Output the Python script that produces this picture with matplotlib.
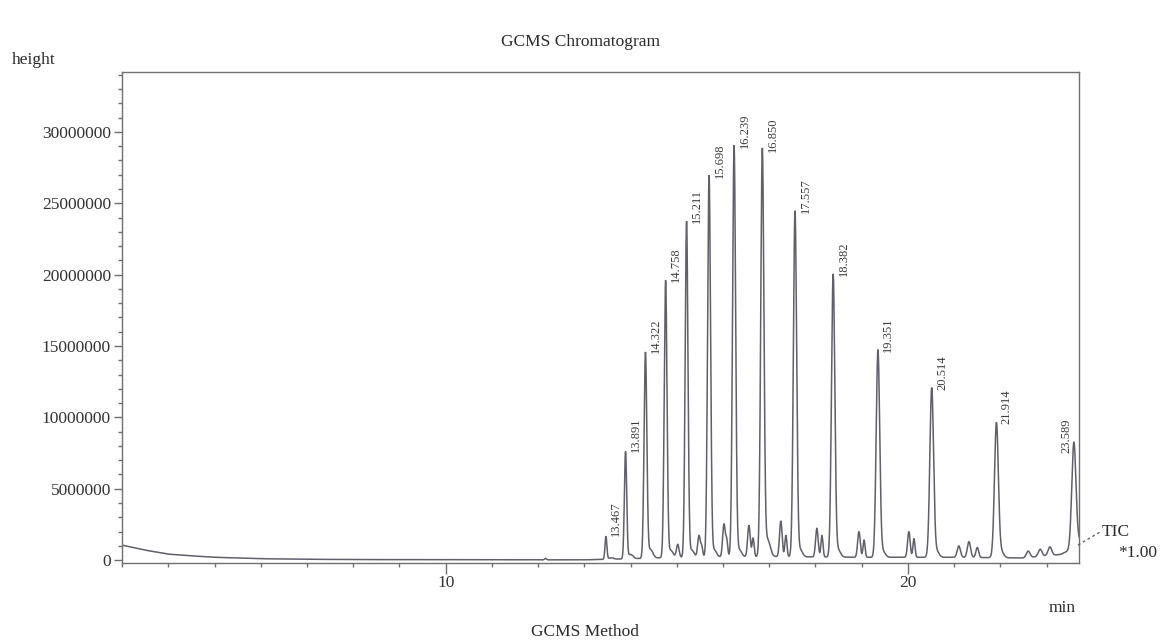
import numpy as np
import matplotlib
matplotlib.use("Agg")
import matplotlib.pyplot as plt
from matplotlib.lines import Line2D
from matplotlib.ticker import MultipleLocator, FixedLocator

plt.rcParams["font.family"] = ["Liberation Serif", "DejaVu Serif"]

# Labelled peaks: retention time (min), apex height, width (sigma, min)
peak_times = [13.467, 13.891, 14.322, 14.758, 15.211, 15.698, 16.239,
              16.850, 17.557, 18.382, 19.351, 20.514, 21.914, 23.589]
peak_heights = [1.6e6, 7.5e6, 14.4e6, 19.4e6, 23.5e6, 26.7e6, 28.8e6,
                28.5e6, 24.2e6, 19.8e6, 14.5e6, 11.85e6, 9.45e6, 7.4e6]
peak_widths = [0.02, 0.025, 0.03, 0.03, 0.03, 0.032, 0.033,
               0.034, 0.035, 0.036, 0.038, 0.04, 0.042, 0.045]

# Minor unlabelled peaks
minor_times = [12.16, 15.02, 15.48, 15.54, 16.02, 16.08, 16.56, 16.65,
               16.97, 17.25, 17.36, 18.03, 18.14, 18.94, 19.05, 20.02,
               20.13, 21.10, 21.32, 21.50, 22.60, 22.86, 23.07]
minor_heights = [0.1e6, 0.9e6, 1.5e6, 0.7e6, 2.3e6, 1.1e6, 2.2e6, 1.3e6,
                 0.6e6, 2.5e6, 1.5e6, 2.0e6, 1.5e6, 1.8e6, 1.2e6, 1.8e6,
                 1.3e6, 0.8e6, 1.1e6, 0.7e6, 0.45e6, 0.5e6, 0.6e6]
minor_widths = [0.02, 0.028, 0.028, 0.022, 0.028, 0.022, 0.028, 0.022,
                0.06, 0.028, 0.022, 0.028, 0.022, 0.028, 0.022, 0.028,
                0.022, 0.035, 0.035, 0.03, 0.04, 0.04, 0.04]

# Small tailing humps right after each labelled peak
tail_offset = 0.11
tail_heights = [0.1e6, 0.3e6, 0.6e6, 0.5e6, 0.5e6, 0.5e6, 0.5e6,
                0.6e6, 0.5e6, 0.5e6, 0.4e6, 0.4e6, 0.4e6, 0.3e6]

# Baseline (solvent tail and column bleed), read at these times
base_times = [3.0, 3.5, 4.0, 4.5, 5.0, 6.0, 7.0, 8.0, 10.0, 12.0, 13.0,
              14.0, 15.0, 17.0, 19.0, 21.0, 22.5, 23.3, 23.7]
base_values = [1.05e6, 0.7e6, 0.42e6, 0.3e6, 0.2e6, 0.1e6, 0.06e6, 0.04e6,
               0.03e6, 0.02e6, 0.02e6, 0.1e6, 0.2e6, 0.25e6, 0.2e6, 0.2e6,
               0.15e6, 0.4e6, 1.0e6]

x_major_ticks = [10, 20]
y_major_ticks = [0, 5000000, 10000000, 15000000, 20000000, 25000000, 30000000]

x_min, x_max = 3.0, 23.7

# Build the total ion current trace from the peak table
t = np.linspace(x_min, x_max, 8000)
signal = np.interp(t, base_times, base_values)
for rt, h, w in zip(peak_times, peak_heights, peak_widths):
    signal += h * np.exp(-0.5 * ((t - rt) / w) ** 2)
for rt, h in zip(peak_times, tail_heights):
    signal += h * np.exp(-0.5 * ((t - rt - tail_offset) / 0.05) ** 2)
for rt, h, w in zip(minor_times, minor_heights, minor_widths):
    signal += h * np.exp(-0.5 * ((t - rt) / w) ** 2)

fig = plt.figure(figsize=(11.68, 6.41), dpi=100)
ax = fig.add_axes([0.1045, 0.1217, 0.8193, 0.766])

trace_color = "#5f6068"
ax.plot(t, signal, color=trace_color, lw=1.1, solid_joinstyle="miter")

for rt, h in zip(peak_times, peak_heights):
    # labels near the right frame go on the left side of their peak
    dx = -5 if rt > x_max - 0.3 else 7.5
    ax.annotate(f"{rt:.3f}", xy=(rt, h), xytext=(dx, 1),
                textcoords="offset points", rotation=90,
                ha="center", va="bottom", fontsize=9, color="#3a3a3a")

ax.set_xlim(x_min, x_max)
ax.set_ylim(-0.2e6, 34.2e6)

ax.xaxis.set_major_locator(FixedLocator(x_major_ticks))
ax.xaxis.set_minor_locator(MultipleLocator(1))
ax.yaxis.set_major_locator(FixedLocator(y_major_ticks))
ax.yaxis.set_minor_locator(MultipleLocator(1000000))
ax.set_yticklabels([str(v) for v in y_major_ticks])
ax.set_xticklabels([str(v) for v in x_major_ticks])

spine_color = "#707070"
for s in ax.spines.values():
    s.set_color(spine_color)
    s.set_linewidth(1.0)
ax.tick_params(axis="both", which="major", length=6, width=1,
               color=spine_color, labelsize=12.5, labelcolor="#333333", pad=2)
ax.tick_params(axis="both", which="minor", length=3, width=1, color=spine_color)
ax.tick_params(axis="x", which="major", length=8, pad=1)

fig.text(0.497, 0.9345, "GCMS Chromatogram", ha="center", va="center",
         fontsize=12.5, color="#2a2a2a")
fig.text(0.0103, 0.906, "height", ha="left", va="center",
         fontsize=12.5, color="#2a2a2a")
fig.text(0.501, 0.014, "GCMS Method", ha="center", va="center",
         fontsize=12.5, color="#2a2a2a")
fig.text(0.909, 0.051, "min", ha="center", va="center",
         fontsize=12.5, color="#2a2a2a")
fig.text(0.9435, 0.170, "TIC", ha="left", va="center",
         fontsize=12.5, color="#2a2a2a")
fig.text(0.957, 0.137, "*1.00", ha="left", va="center",
         fontsize=12.5, color="#2a2a2a")
fig.add_artist(Line2D([0.9229, 0.9418], [0.1498, 0.170], transform=fig.transFigure,
                      color="#666666", lw=1, ls=(0, (2, 2))))

fig.savefig("out.png", dpi=100, facecolor="white")
